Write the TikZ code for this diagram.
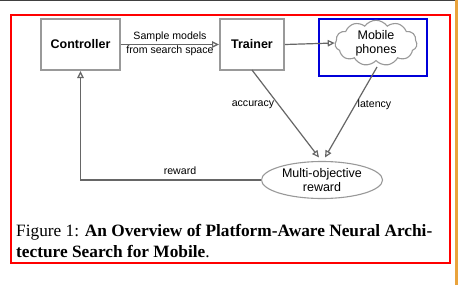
\documentclass[tikz,border=0pt]{standalone}
\usepackage{fontspec}
\setmainfont{Liberation Serif}
\setsansfont{Liberation Sans}
\usetikzlibrary{arrows.meta,shapes.symbols,shapes.geometric}
\definecolor{boxgray}{HTML}{999999}
\definecolor{arrgray}{HTML}{666666}
\definecolor{orangeedge}{HTML}{E9A33C}
\tikzset{
  blockbox/.style={draw=boxgray, line width=2pt, fill=white, font=\sffamily\bfseries\fontsize{12.5}{14}\selectfont},
  conn/.style={draw=arrgray, line width=1.2pt, -{Triangle[open, length=7pt, width=6.5pt]}},
  lbl/.style={font=\sffamily\fontsize{10.6}{12.5}\selectfont, inner sep=0pt, align=center},
  captionline/.style={font=\fontsize{17.3}{21}\selectfont, inner sep=0pt, anchor=base west},
}
\begin{document}
\begin{tikzpicture}[x=1pt,y=1pt]
\useasboundingbox (0,0) rectangle (460,285);
\fill[white] (0,0) rectangle (460,285);
\draw[line width=1.5pt, draw=black!75] (0,284.5) -- (455,284.5);
\draw[line width=2.5pt, draw=orangeedge] (456.5,0) -- (456.5,285);
\draw[line width=1.5pt, draw=red] (11,270) rectangle (450,22);
% nodes
\node[blockbox, minimum width=79pt, minimum height=51pt] (ctrl) at (80.5,240.5) {Controller};
\node[blockbox, minimum width=64pt, minimum height=51pt] (trainer) at (252,240.5) {Trainer};
\draw[line width=1.8pt, draw=blue!85!black] (319,266) rectangle (427,209);
\node[cloud, cloud puffs=11, cloud puff arc=110, aspect=2, draw=boxgray, line width=1.1pt,
      minimum width=82pt, minimum height=44pt, inner sep=0pt, align=center,
      font=\sffamily\fontsize{12.5}{14}\selectfont] (cloud) at (376,242) {Mobile\\phones};
\node[ellipse, draw=boxgray, line width=1.1pt, minimum width=121pt, minimum height=37pt,
      inner sep=0pt, align=center, font=\sffamily\fontsize{12.5}{14}\selectfont] (ell) at (322,105) {Multi-objective\\reward};
% connectors
\draw[conn] (ctrl.east) -- (trainer.west);
\node[lbl, font=\sffamily\fontsize{10.6}{14}\selectfont] (samp) at (170,241) {Sample models\\from search space};
\draw[conn] (trainer.east) -- (cloud.west);
\coordinate (trb) at (252,215);
\coordinate (cb) at (377,218);
\coordinate (e1) at (319,127.5);
\coordinate (e2) at (325,127.5);
\draw[conn] (trb) -- (e1);
\draw[conn] (cb) -- (e2);
\node[lbl] (acc) at (253,180) {accuracy};
\node[lbl] (lat) at (374.5,180) {latency};
\draw[conn] (ell.west) -| (ctrl.south);
\node[lbl] (rew) at (180,114.5) {reward};
% caption
\node[captionline] (cap1) at (16,49) {Figure 1: \textbf{An Overview of Platform-Aware Neural Archi-}};
\node[captionline] (cap2) at (16,28) {\textbf{tecture Search for Mobile}.};
\end{tikzpicture}
\end{document}
